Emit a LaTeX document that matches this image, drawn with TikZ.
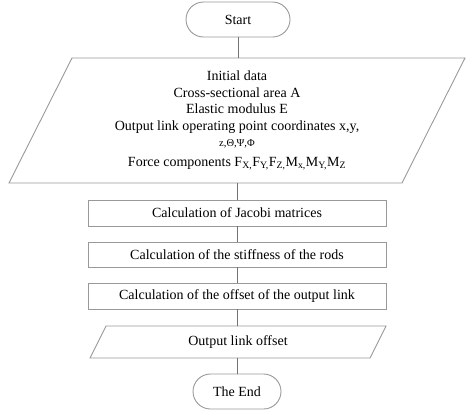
\documentclass[tikz,border=0pt]{standalone}
\usepackage{fontspec}
\setmainfont{Liberation Serif}
\begin{document}
\begin{tikzpicture}[x=1pt,y=-1pt,
  shapeline/.style={draw=black!40, line width=0.9pt},
  conn/.style={draw=black!55, line width=0.9pt},
  txt/.style={font=\fontsize{14}{16.5}\selectfont, align=center, inner sep=0pt},
  term/.style={txt, shapeline, rounded corners=17.5pt, minimum height=35pt},
  procbox/.style={txt, shapeline, minimum width=298pt},
  ioholder/.style={txt}
]
\useasboundingbox (0,0) rectangle (474,416);
% Start
\node[term, minimum width=104pt] (start) at (238,19.5) {Start};
% Initial data
\node[ioholder, minimum height=125pt] (init) at (237,120.5) {Initial data\\Cross-sectional area A\\Elastic modulus E\\Output link operating point coordinates x,y,\\{\fontsize{10.5}{16.5}\selectfont z,Θ,Ψ,Φ}\\[3pt]Force components F\textsubscript{X,}F\textsubscript{Y,}F\textsubscript{Z,}M\textsubscript{x,}M\textsubscript{Y,}M\textsubscript{Z}};
\draw[shapeline] (72,58) -- (465,58) -- (402,183) -- (9,183) -- cycle;
% process boxes
\node[procbox, minimum height=26pt] (jac) at (237,213) {Calculation of Jacobi matrices};
\node[procbox, minimum height=25pt] (stiff) at (237,254.5) {Calculation of the stiffness of the rods};
\node[procbox, minimum height=26pt] (offs) at (237,296) {Calculation of the offset of the output link};
% Output
\node[ioholder, minimum height=32pt] (out) at (238,342) {Output link offset};
\draw[shapeline] (106,326) -- (386,326) -- (370,358) -- (90,358) -- cycle;
% End
\node[term, minimum width=88pt] (end) at (237,391.5) {The End};
% connectors
\draw[conn] (start.south) -- (start.south |- init.north);
\draw[conn] (init.south) -- (init.south |- jac.north);
\draw[conn] (jac) -- (stiff);
\draw[conn] (stiff) -- (offs);
\draw[conn] (offs.south) -- (offs.south |- out.north);
\draw[conn] (out.south) -- (out.south -| end.north) -- (end.north);
\end{tikzpicture}
\end{document}
